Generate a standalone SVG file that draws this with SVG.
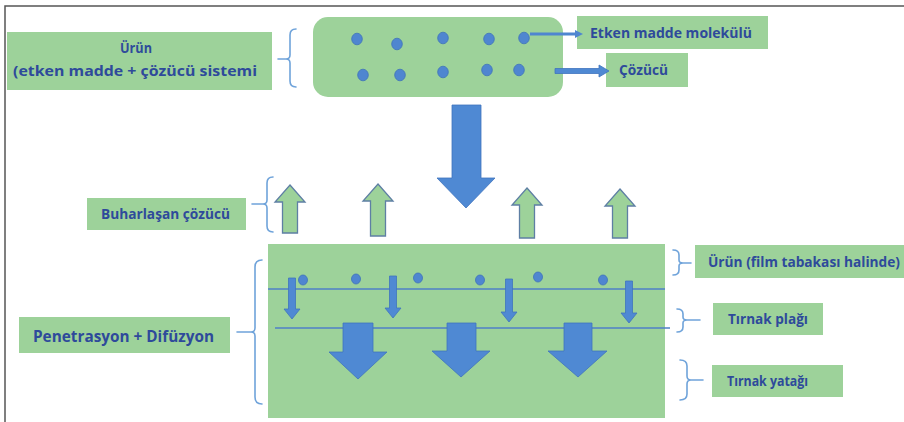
<svg xmlns="http://www.w3.org/2000/svg" width="904" height="422" viewBox="0 0 904 422">
<defs>
<style>
.box{fill:#9DD29A;}
.lbl{font-family:"Open Sans","Noto Sans",Lato,sans-serif;font-weight:bold;fill:#2E4A9B;}
.dot{fill:#4F86D0;stroke:#3E72BA;stroke-width:0.8;}
.barrow{fill:#4F89D3;stroke:#3F74BE;stroke-width:0.8;}
.garrow{fill:#9DD29A;stroke:#5E7FA4;stroke-width:1.3;}
.brace{fill:none;stroke:#6FA3DA;stroke-width:1.6;stroke-linecap:round;}
.layer{stroke:#4F7FC7;stroke-width:1.3;}
</style>
</defs>
<rect width="904" height="422" fill="#ffffff"/>
<path d="M5,422 L5,6 L904,6" fill="none" stroke="#555" stroke-width="1.5"/>

<g id="urun-label">
<rect class="box" x="7" y="32" width="265" height="58"/>
<text class="lbl" x="136" y="53" font-size="15" text-anchor="middle" textLength="32" lengthAdjust="spacingAndGlyphs">Ürün</text>
<text class="lbl" x="135" y="76" font-size="15" text-anchor="middle" textLength="244" lengthAdjust="spacingAndGlyphs">(etken madde + çözücü sistemi</text>
</g>

<g id="product-box">
<rect x="313" y="17" width="250" height="80" rx="15" fill="#9DD29A"/>
<ellipse class="dot" cx="357" cy="39" rx="5.3" ry="5.8"/>
<ellipse class="dot" cx="397" cy="44" rx="5.3" ry="5.8"/>
<ellipse class="dot" cx="443" cy="38" rx="5.3" ry="5.8"/>
<ellipse class="dot" cx="489" cy="39" rx="5.3" ry="5.8"/>
<ellipse class="dot" cx="524" cy="38" rx="5.3" ry="5.8"/>
<ellipse class="dot" cx="363" cy="75" rx="5.3" ry="5.8"/>
<ellipse class="dot" cx="400" cy="75" rx="5.3" ry="5.8"/>
<ellipse class="dot" cx="443" cy="72" rx="5.3" ry="5.8"/>
<ellipse class="dot" cx="487" cy="70" rx="5.3" ry="5.8"/>
<ellipse class="dot" cx="519" cy="70" rx="5.3" ry="5.8"/>
</g>

<g id="etken-label">
<rect class="box" x="577" y="16" width="191" height="33"/>
<text class="lbl" x="590" y="38" font-size="14" textLength="162" lengthAdjust="spacingAndGlyphs">Etken madde molekülü</text>
</g>

<g id="cozucu-label">
<rect class="box" x="606" y="53" width="82" height="34"/>
<text class="lbl" x="619" y="75" font-size="14" textLength="49" lengthAdjust="spacingAndGlyphs">Çözücü</text>
</g>

<g id="buharlasan-label">
<rect class="box" x="87" y="198" width="159" height="32"/>
<text class="lbl" x="101" y="219" font-size="14" textLength="129" lengthAdjust="spacingAndGlyphs">Buharlaşan çözücü</text>
</g>

<g id="penetrasyon-label">
<rect class="box" x="19" y="317" width="211" height="36"/>
<text class="lbl" x="33" y="342" font-size="16" textLength="181" lengthAdjust="spacingAndGlyphs">Penetrasyon + Difüzyon</text>
</g>

<g id="nail-layers">
<rect class="box" x="268" y="244" width="397" height="174"/>
<line class="layer" x1="268" y1="289" x2="665" y2="289"/>
<line class="layer" x1="275" y1="328" x2="670" y2="328"/>
<ellipse class="dot" cx="303" cy="280" rx="4.5" ry="5"/>
<ellipse class="dot" cx="356" cy="279" rx="4.5" ry="5"/>
<ellipse class="dot" cx="418" cy="278" rx="4.5" ry="5"/>
<ellipse class="dot" cx="480" cy="280" rx="4.5" ry="5"/>
<ellipse class="dot" cx="538" cy="277" rx="4.5" ry="5"/>
<ellipse class="dot" cx="603" cy="280" rx="4.5" ry="5"/>
</g>

<g id="film-label">
<rect class="box" x="695" y="245" width="209" height="33"/>
<text class="lbl" x="708" y="267" font-size="14" textLength="192" lengthAdjust="spacingAndGlyphs">Ürün (film tabakası halinde)</text>
</g>

<g id="plak-label">
<rect class="box" x="713" y="303" width="110" height="32"/>
<text class="lbl" x="728" y="324" font-size="14" textLength="80" lengthAdjust="spacingAndGlyphs">Tırnak plağı</text>
</g>

<g id="yatak-label">
<rect class="box" x="712" y="365" width="131" height="32"/>
<text class="lbl" x="727" y="386" font-size="14" textLength="81" lengthAdjust="spacingAndGlyphs">Tırnak yatağı</text>
</g>

<g id="connectors">
<line x1="530" y1="34" x2="576" y2="34" stroke="#4F86D0" stroke-width="3"/>
<polygon points="575,30 583,34 575,38" fill="#4F86D0"/>
<polygon class="barrow" points="555,68.5 599,68.5 599,65 609,71 599,77 599,73.5 555,73.5"/>
<polygon class="barrow" points="452,105 481,105 481,178 495,178 466,208 437,178 452,178"/>
<polygon class="garrow" points="290,185 305,202 297.5,202 297.5,233 282.5,233 282.5,202 275,202"/>
<polygon class="garrow" points="378,184 393,201 385.5,201 385.5,236 370.5,236 370.5,201 363,201"/>
<polygon class="garrow" points="527,188 542,205 534.5,205 534.5,238 519.5,238 519.5,205 512,205"/>
<polygon class="garrow" points="620,189 635,206 627.5,206 627.5,238 612.5,238 612.5,206 605,206"/>
<polygon class="barrow" points="288.5,278 295.5,278 295.5,309 300,309 292,319 284,309 288.5,309"/>
<polygon class="barrow" points="389.5,276 396.5,276 396.5,308 401,308 393,318 385,308 389.5,308"/>
<polygon class="barrow" points="505.5,279 512.5,279 512.5,312 517,312 509,322 501,312 505.5,312"/>
<polygon class="barrow" points="625.5,281 632.5,281 632.5,313 637,313 629,323 621,313 625.5,313"/>
<polygon class="barrow" points="343,323 373,323 373,352 387,352 358,379 329,352 343,352"/>
<polygon class="barrow" points="447,323 476,323 476,351 490,351 461,377 432,351 447,351"/>
<polygon class="barrow" points="564,323 592,323 592,351 607,351 578,377 548,351 564,351"/>
<path class="brace" d="M296,29 Q290,29 290,35 L290,55 Q290,59 286,59 Q290,59 290,63 L290,81 Q290,87 296,87 M278,59 L286,59"/>
<path class="brace" d="M273,177 Q267,177 267,183 L267,200 Q267,204 263,204 Q267,204 267,208 L267,226 Q267,232 273,232 M252,204 L263,204"/>
<path class="brace" d="M262,260 Q255,260 255,267 L255,328 Q255,332 251,332 Q255,332 255,336 L255,397 Q255,404 262,404 M237,332 L251,332"/>
<path class="brace" d="M673,250 Q679,250 679,255 L679,260 Q679,263 683,263 Q679,263 679,266 L679,270 Q679,275 673,275 M683,263 L691,263"/>
<path class="brace" d="M677,309 Q683,309 683,314 L683,317 Q683,320 687,320 Q683,320 683,323 L683,327 Q683,332 677,332 M687,320 L700,320"/>
<path class="brace" d="M680,360 Q687,360 687,366 L687,376 Q687,380 691,380 Q687,380 687,384 L687,394 Q687,400 680,400 M691,380 L703,380"/>
</g>
</svg>
